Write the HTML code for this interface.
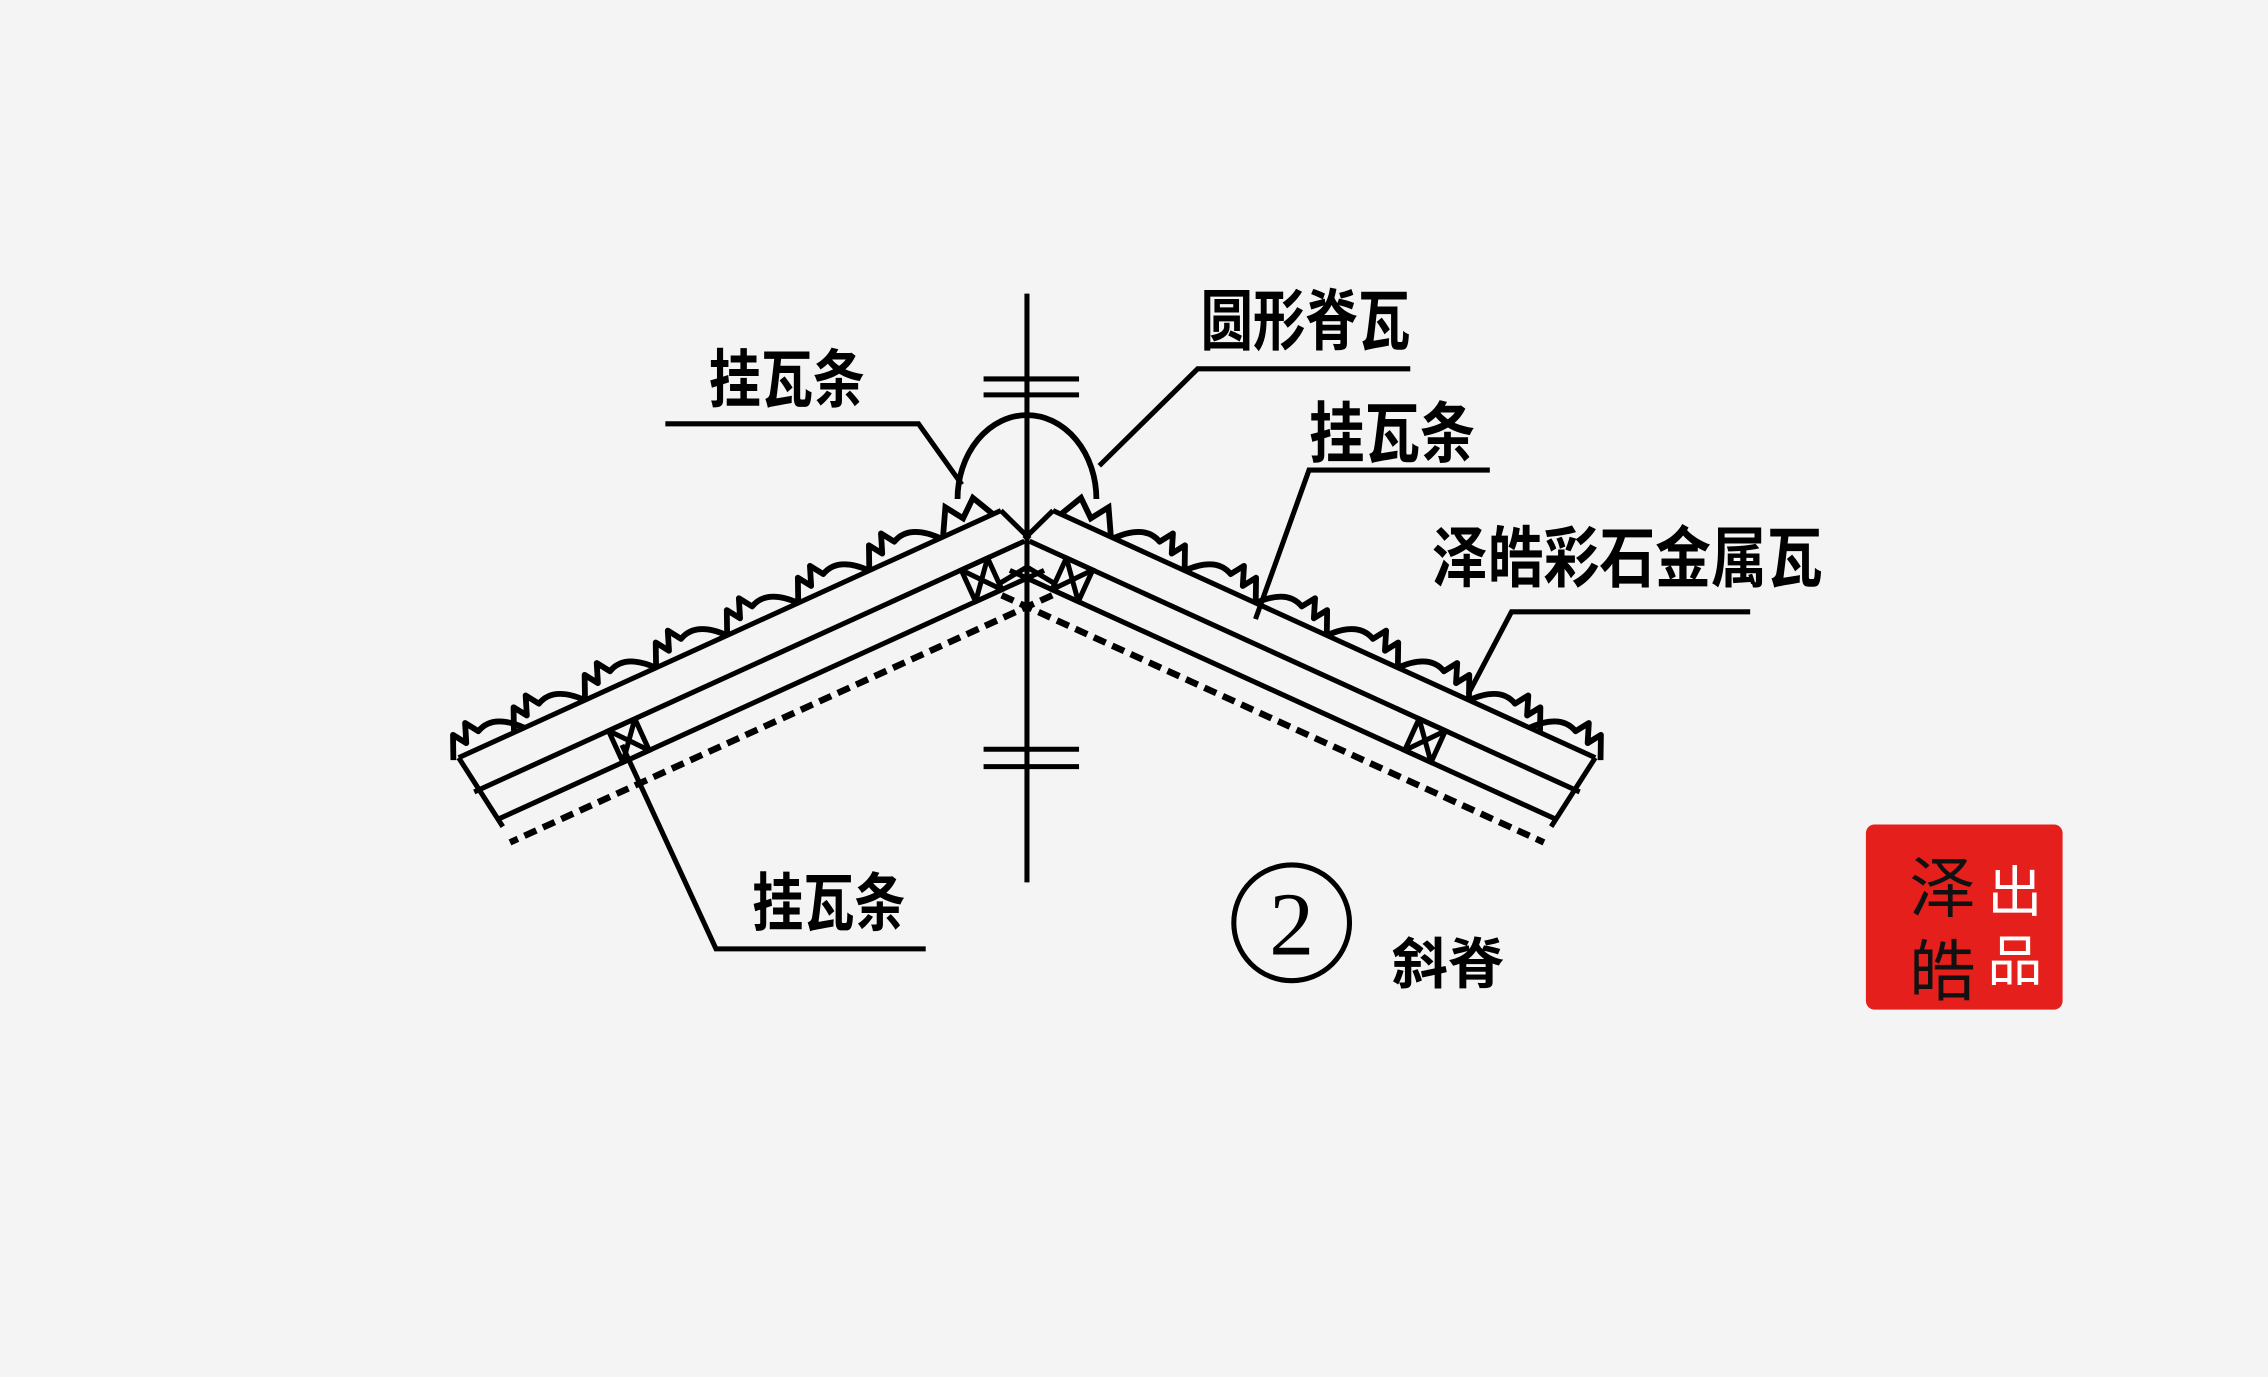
<!DOCTYPE html>
<html><head><meta charset="utf-8"><style>
html,body{margin:0;padding:0;background:#f4f4f4;}
svg{display:block;}
text{font-family:"Liberation Sans","Noto Sans CJK SC",sans-serif;font-weight:700;fill:#000;}
</style></head><body>
<svg width="2268" height="1377" viewBox="0 0 1568 952" xmlns="http://www.w3.org/2000/svg">
<rect width="1568" height="952" fill="#f4f4f4"/>
<defs>
<path id="wave" d="M0,0 Q16,-18 30,-11 L36,-20 L41,-7 L47,-16 L54,0" fill="none" stroke="#000" stroke-width="4" stroke-linejoin="round"/>
<g id="slab">
 <g fill="none" stroke="#000" stroke-width="3.5">
  <line x1="0" y1="0" x2="412" y2="0"/>
  <line x1="-6" y1="26" x2="412" y2="26"/>
  <line x1="-10" y1="50" x2="404" y2="50"/>
  <line x1="412" y1="0" x2="404" y2="56"/>
  <line x1="0" y1="0" x2="-10" y2="26"/>
  <line x1="-8" y1="68" x2="404" y2="68" stroke-dasharray="9 5" stroke-width="4.5"/>
  <rect x="22" y="26" width="20" height="24"/>
  <path d="M22,26 L42,50 M42,26 L22,50"/>
  <rect x="290" y="26" width="20" height="24"/>
  <path d="M290,26 L310,50 M310,26 L290,50"/>
  <path d="M6,0 L14,-16 L26,-6 L34,-18 L44,0" stroke-width="4"/>
 </g>
 <use href="#wave" x="46"/><use href="#wave" x="100"/><use href="#wave" x="154"/>
 <use href="#wave" x="208"/><use href="#wave" x="262"/><use href="#wave" x="316"/>
 <use href="#wave" x="362"/>
</g>
</defs>
<g transform="translate(728,353) rotate(24.5)"><use href="#slab"/></g>
<g transform="translate(1420,0) scale(-1,1)"><g transform="translate(728,353) rotate(24.5)"><use href="#slab"/></g></g>
<g stroke="#000" stroke-width="3.5" fill="none">
 <line x1="710" y1="203" x2="710" y2="610"/>
 <line x1="680" y1="262" x2="746" y2="262"/>
 <line x1="680" y1="273" x2="746" y2="273"/>
 <line x1="680" y1="518" x2="746" y2="518"/>
 <line x1="680" y1="530" x2="746" y2="530"/>
 <path d="M662,345 A48,58 0 0 1 758,345" stroke-width="4"/>
 <path d="M710,392 L690,404 M710,392 L730,404"/>
 <path d="M460,293 L635,293 L665,335"/>
 <path d="M975,255 L828,255 L760,322"/>
 <path d="M1030,325 L905,325 L868,428"/>
 <path d="M1210,423 L1045,423 L1015,480"/>
 <path d="M640,656 L495,656 L430,515"/>
 <circle cx="893" cy="638" r="40"/>
</g>
<text x="490" y="278" font-size="44" textLength="108" lengthAdjust="spacingAndGlyphs">挂瓦条</text>
<text x="830" y="238" font-size="46" textLength="145" lengthAdjust="spacingAndGlyphs">圆形脊瓦</text>
<text x="905" y="316" font-size="46" textLength="115" lengthAdjust="spacingAndGlyphs">挂瓦条</text>
<text x="990" y="402" font-size="46" textLength="270" lengthAdjust="spacingAndGlyphs">泽皓彩石金属瓦</text>
<text x="520" y="640" font-size="44" textLength="106" lengthAdjust="spacingAndGlyphs">挂瓦条</text>
<text x="893" y="660" font-size="62" text-anchor="middle" style="font-family:'Liberation Serif',serif;font-weight:400">2</text>
<text x="962" y="680" font-size="38" textLength="78" lengthAdjust="spacingAndGlyphs">斜脊</text>
<rect x="1290" y="570" width="136" height="128" rx="6" fill="#e5201c"/>
<text x="1320" y="630" font-size="46" style="fill:#111;font-weight:400">泽</text>
<text x="1320" y="688" font-size="46" style="fill:#111;font-weight:400">皓</text>
<text x="1374" y="630" font-size="38" style="fill:#fff;font-weight:400">出</text>
<text x="1374" y="678" font-size="38" style="fill:#fff;font-weight:400">品</text>
</svg>
</body></html>
